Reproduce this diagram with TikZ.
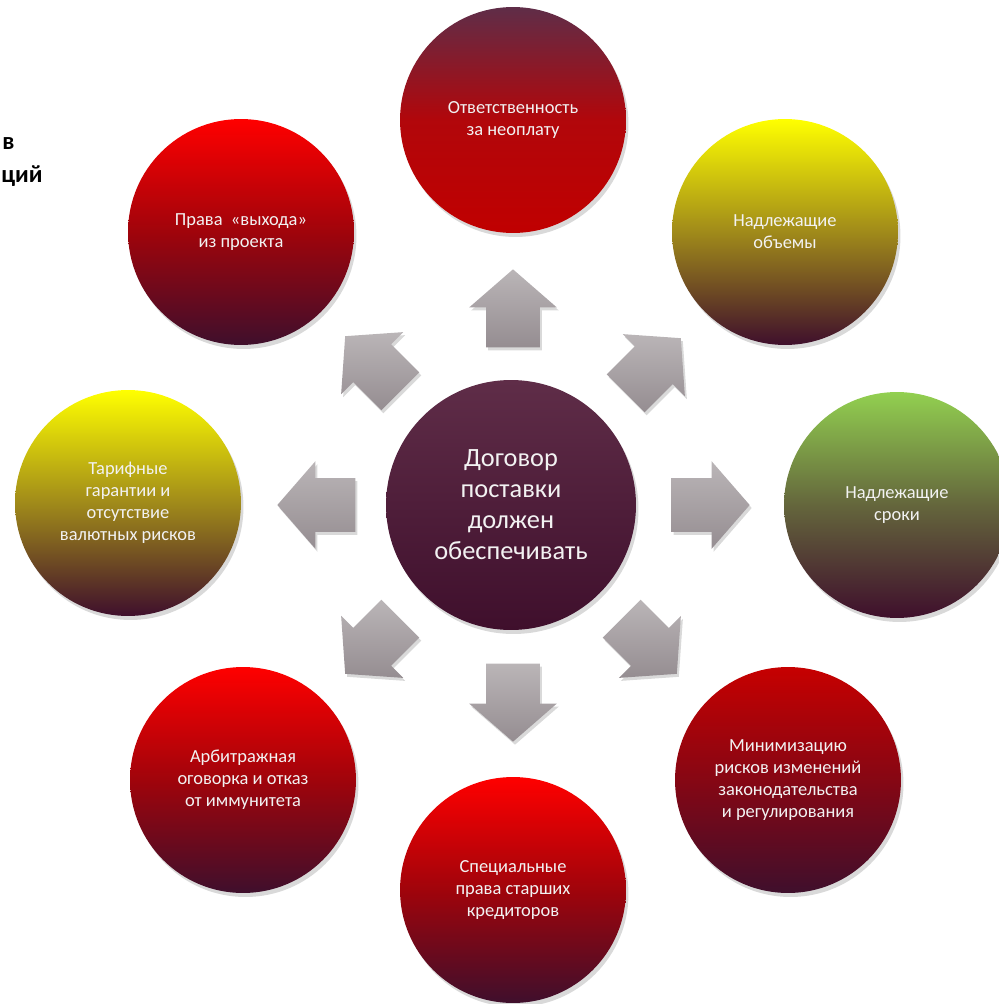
\documentclass[tikz,border=0pt]{standalone}
\usepackage{fontspec}
\setmainfont{Carlito}
\usetikzlibrary{shapes.arrows,shadows}
\definecolor{plum}{HTML}{3F0F2C}
\definecolor{plumtop}{HTML}{5F2D48}
\definecolor{bred}{HTML}{C00000}
\definecolor{olive}{HTML}{A08A1A}
\definecolor{grass}{HTML}{92D050}
\definecolor{arrtop}{HTML}{BAB5B7}
\definecolor{arrbot}{HTML}{958D91}
\tikzset{
  ball/.style={circle, minimum size=4.52cm, inner sep=0pt, align=center,
    text=white!95!black, font=\fontsize{10.5}{12.6}\selectfont,
    drop shadow={opacity=.3, shadow xshift=.05cm, shadow yshift=-.08cm}},
  bigball/.style={ball, minimum size=5cm, font=\fontsize{15}{17.6}\selectfont},
  arr/.style={single arrow, minimum height=1.56cm, minimum width=1.74cm,
    single arrow head extend=.34cm, single arrow tip angle=98,
    inner xsep=0pt, inner ysep=.53cm,
    top color=arrtop, bottom color=arrbot,
    drop shadow={opacity=.3, shadow xshift=.04cm, shadow yshift=-.06cm}},
  cut/.style={anchor=base west, inner sep=0pt, font=\bfseries\fontsize{14}{17}\selectfont}
}
\begin{document}
\begin{tikzpicture}[x=0.02cm,y=-0.02cm]
\useasboundingbox (0,0) rectangle (999,1004);
% cut title on the left
\node[cut] (titA) at (2,149) {в};
\node[cut] (titB) at (1,182) {ций};
% circles
\node[bigball, top color=plumtop, bottom color=plum] (main) at (511,505)
  {Договор\\поставки\\должен\\обеспечивать};
\node[ball, top color=plumtop, bottom color=bred, middle color=bred!85!plumtop] (pay) at (513,120)
  {Ответственность\\за неоплату};
\node[ball, top color=yellow, bottom color=plum, middle color=olive] (vol) at (785,232)
  {Надлежащие\\объемы};
\node[ball, top color=grass, bottom color=plum, middle color=grass!45!plum] (time) at (897,505)
  {Надлежащие\\сроки};
\node[ball, top color=bred!90!red, bottom color=plum, middle color=bred!55!plum] (law) at (788,780)
  {Минимизацию\\рисков изменений\\законодательства\\и регулирования};
\node[ball, top color=red, bottom color=plum, middle color=bred!75!plum] (cred) at (513,890)
  {Специальные\\права старших\\кредиторов};
\node[ball, top color=red, bottom color=plum, middle color=bred!75!plum] (arb) at (243,780)
  {Арбитражная\\оговорка и отказ\\от иммунитета};
\node[ball, top color=yellow, bottom color=plum, middle color=olive] (tar) at (128,503)
  {Тарифные\\гарантии и\\отсутствие\\валютных рисков};
\node[ball, top color=red, bottom color=plum, middle color=bred!75!plum] (exit) at (241,232)
  {Права~ «выхода»\\из проекта};
% arrows
\node[arr, rotate=90] (aN) at (513,320) {};
\node[arr, rotate=45] (aNE) at (645,374) {};
\node[arr, rotate=0] (aE) at (699,505) {};
\node[arr, rotate=-45] (aSE) at (641,638) {};
\node[arr, rotate=-90] (aS) at (513,691) {};
\node[arr, rotate=-135] (aSW) at (381,638) {};
\node[arr, rotate=180] (aW) at (328,505) {};
\node[arr, rotate=135] (aNW) at (381,372) {};
\end{tikzpicture}
\end{document}
